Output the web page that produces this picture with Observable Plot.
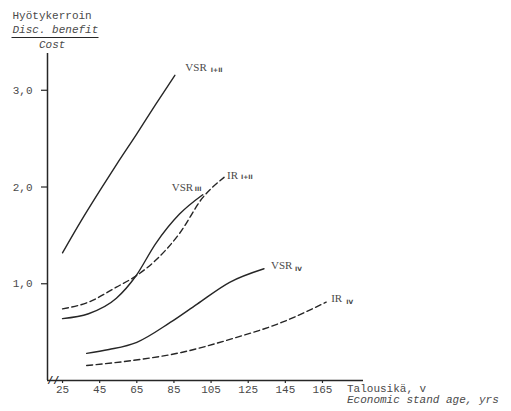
<!DOCTYPE html>
<html>
<head>
<meta charset="utf-8">
<script src="https://cdn.jsdelivr.net/npm/d3@7"></script>
<script src="https://cdn.jsdelivr.net/npm/@observablehq/plot@0.6"></script>
<style>
  body { margin: 0; background: #fff; }
  #chart svg { display: block; }
</style>
</head>
<body>
<div id="chart"></div>
<script>
// Economic stand age (years) and discounted benefit / cost ratio for each alternative
const vsr12Age = [25, 35, 45, 55, 65, 75, 85.5];
const vsr12    = [1.32, 1.65, 1.96, 2.26, 2.55, 2.85, 3.155];

const vsr3Age  = [25, 39, 54, 64.5, 75, 88, 100.5];
const vsr3     = [0.64, 0.69, 0.85, 1.08, 1.41, 1.72, 1.92];

const ir12Age  = [25, 39, 54, 64.5, 75, 88, 100.5, 112];
const ir12     = [0.74, 0.81, 0.965, 1.08, 1.24, 1.52, 1.89, 2.10];

const vsr4Age  = [38, 50, 65, 83, 97.5, 115, 133.5];
const vsr4     = [0.28, 0.32, 0.395, 0.60, 0.79, 1.015, 1.155];

const ir4Age   = [38, 62, 89, 116, 143, 167];
const ir4      = [0.155, 0.205, 0.29, 0.43, 0.60, 0.81];

// Curve names: main label and its subscript
const seriesIds   = ["VSR I+II", "VSR III", "IR I+II", "VSR IV", "IR IV"];
const seriesMain  = ["VSR", "VSR", "IR", "VSR", "IR"];
const seriesSub   = ["I+II", "III", "I+II", "IV", "IV"];
const seriesDash  = [false, false, true, false, true];

// Axis ticks and extents
const ageTicks   = [25, 45, 65, 85, 105, 125, 145, 165];
const ratioTicks = [1, 2, 3];
const ageDomain   = [16.9, 187.1];
const ratioDomain = [0, 3.38];
const axisBreakAt = 20;

const ages   = [vsr12Age, vsr3Age, ir12Age, vsr4Age, ir4Age];
const values = [vsr12, vsr3, ir12, vsr4, ir4];

const rows = seriesIds.flatMap((id, k) =>
  ages[k].map((a, i) => ({ id, age: a, value: values[k][i], dashed: seriesDash[k] })));

const ends = seriesIds.map((id, k) => ({
  id, main: seriesMain[k], sub: seriesSub[k],
  age: ages[k][ages[k].length - 1],
  value: values[k][values[k].length - 1]
}));

// label placement around each curve's end (pixels)
const labelStyle = {
  "VSR I+II": { dx: 10.5, dy: -8,   sdx: 36,   sdy: -5.5 },
  "VSR III":  { dx: -31,  dy: -7.5, sdx: -8,   sdy: -5.5 },
  "IR I+II":  { dx: 3,    dy: -2,   sdx: 17,   sdy: 0 },
  "VSR IV":   { dx: 7,    dy: -3,   sdx: 31,   sdy: 0 },
  "IR IV":    { dx: 5,    dy: -3.5, sdx: 20,   sdy: -0.5 }
};

const ink = "#262626";
const textInk = "#4a4a4a";
const mono = "'Liberation Mono', 'DejaVu Sans Mono', monospace";
const serif = "'Liberation Serif', 'DejaVu Serif', serif";

const labelMarks = ends.flatMap(e => {
  const s = labelStyle[e.id];
  return [
    Plot.text([e], { x: "age", y: "value", text: "main", dx: s.dx, dy: s.dy,
      textAnchor: "start", fontFamily: serif, fontSize: 11, fill: textInk }),
    Plot.text([e], { x: "age", y: "value", text: "sub", dx: s.sdx, dy: s.sdy,
      textAnchor: "start", fontFamily: "'DejaVu Sans', sans-serif", fontSize: 6,
      fontWeight: "bold", fill: textInk })
  ];
});

const chart = Plot.plot({
  width: 511,
  height: 411,
  marginLeft: 47,
  marginRight: 148,
  marginTop: 53,
  marginBottom: 31,
  x: { domain: ageDomain },
  y: { domain: ratioDomain },
  style: { fontFamily: mono, fontSize: "11px", color: textInk, background: "#fff", overflow: "visible" },
  marks: [
    Plot.ruleX([ageDomain[0]], { stroke: ink, strokeWidth: 1.5 }),
    Plot.ruleY([0], { stroke: ink, strokeWidth: 1.5 }),
    Plot.axisX({ ticks: ageTicks, tickSize: 3, tickPadding: 2, label: null,
      tickFormat: d => String(d), stroke: ink, strokeWidth: 1.2 }),
    Plot.axisY({ ticks: ratioTicks, tickSize: 6, tickPadding: 9, label: null,
      tickFormat: d => d.toFixed(1).replace(".", ","), stroke: ink, strokeWidth: 1.2 }),
    Plot.text([axisBreakAt], { x: d => d, y: () => 0, text: () => "//", fontSize: 10,
      fontWeight: "bold", fill: ink }),
    Plot.line(rows.filter(d => !d.dashed), { x: "age", y: "value", z: "id",
      curve: "monotone-x", stroke: ink, strokeWidth: 1.4 }),
    Plot.line(rows.filter(d => d.dashed), { x: "age", y: "value", z: "id",
      curve: "monotone-x", stroke: ink, strokeWidth: 1.4, strokeDasharray: "6,3.5" }),
    ...labelMarks
  ]
});

document.getElementById("chart").append(chart);

// Axis titles in the margins
const svg = d3.select(chart);
const title = svg.append("g").attr("fill", textInk).attr("font-family", mono)
  .attr("font-size", 11).attr("text-anchor", "start");
title.append("text").attr("x", 12.5).attr("y", 19).text("Hyötykerroin");
title.append("text").attr("x", 12.5).attr("y", 33).attr("font-style", "italic").text("Disc. benefit");
svg.append("line").attr("x1", 11.5).attr("x2", 98.5).attr("y1", 37.5).attr("y2", 37.5)
  .attr("stroke", ink).attr("stroke-width", 1.2);
title.append("text").attr("x", 39).attr("y", 47.5).attr("font-style", "italic").text("Cost");
title.append("text").attr("x", 347).attr("y", 392).text("Talousikä, v");
title.append("text").attr("x", 347).attr("y", 403).attr("font-style", "italic").text("Economic stand age, yrs");
</script>
</body>
</html>
